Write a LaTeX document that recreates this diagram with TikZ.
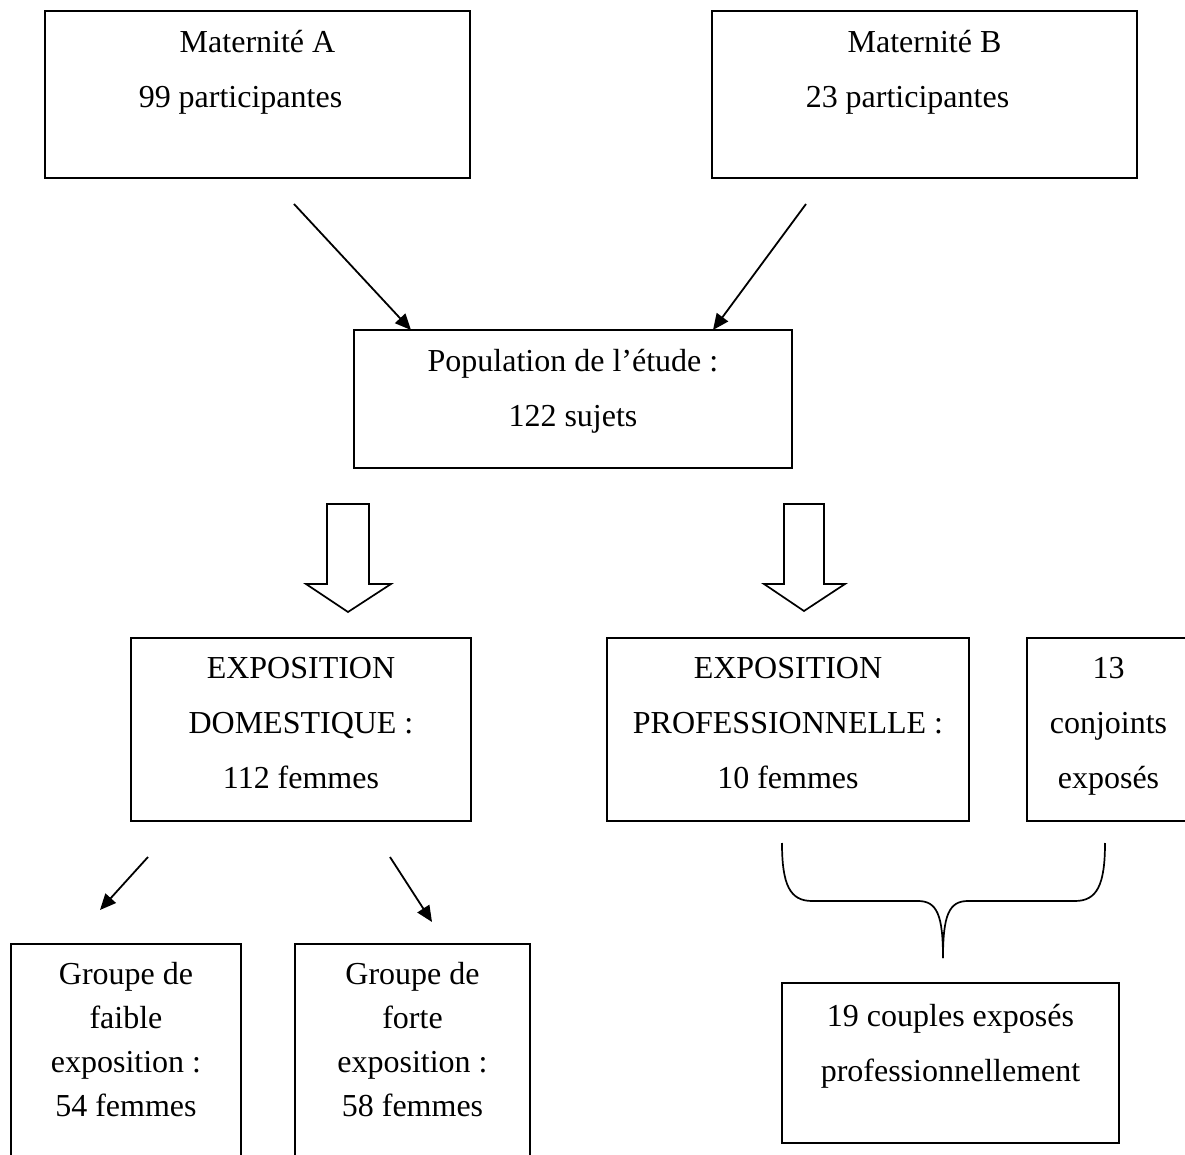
\documentclass[tikz,border=0pt]{standalone}
\usepackage{fontspec}
\setmainfont{Liberation Serif}
\usetikzlibrary{arrows.meta}
\newcommand{\bx}[5]{\parbox[c][#2][t]{#1}{\centering\fontsize{16pt}{#3}\selectfont\rule{0pt}{#4}#5}}
\tikzset{
  box/.style={draw, line width=0.85pt, inner sep=0pt, outer sep=0pt, anchor=north west},
  arr/.style={line width=0.9pt, -{Triangle[length=8pt,width=7pt]}},
  blockarrow/.style={draw, line width=0.85pt, fill=white, line join=miter},
  brace/.style={line width=0.85pt}
}
\begin{document}
\begin{tikzpicture}[x=0.5pt, y=-0.5pt]
\useasboundingbox (0,0) rectangle (1185,1155);
\clip (0,0) rectangle (1185,1155);
\fill[white] (0,0) rectangle (1185,1155);

% top boxes
\node[box] (matA) at (45,11) {\bx{212.5pt}{83.5pt}{27.5pt}{21pt}{Maternité A\\99 participantes\hspace*{17pt}}};
\node[box] (matB) at (712,11) {\bx{212.5pt}{83.5pt}{27.5pt}{21pt}{Maternité B\\23 participantes\hspace*{17pt}}};

% population
\node[box] (pop) at (354,330) {\bx{219pt}{69pt}{27.5pt}{20.8pt}{Population de l’étude :\\122 sujets}};

% arrows into population
\coordinate (tA) at (294,204);
\coordinate (tB) at (806,204);
\draw[arr] (tA) -- ([xshift=28.5pt]pop.north west);
\draw[arr] (tB) -- ([xshift=-39.5pt]pop.north east);

% block arrows
\draw[blockarrow] (327,504) -- (369,504) -- (369,584) -- (391,584) -- (348,612) -- (306,584) -- (327,584) -- cycle;
\draw[blockarrow] (784,504) -- (824,504) -- (824,584) -- (845,584) -- (804,611) -- (764,584) -- (784,584) -- cycle;

% exposure boxes
\node[box] (dom) at (131,638) {\bx{170pt}{91.5pt}{27.5pt}{20pt}{EXPOSITION\\DOMESTIQUE :\\112 femmes}};
\node[box] (pro) at (607,638) {\bx{181pt}{91.5pt}{27.5pt}{20pt}{EXPOSITION\\PROFESSIONNELLE :\\10 femmes}};
\node[box] (conj) at (1027,638) {\bx{81.5pt}{91.5pt}{27.5pt}{20pt}{13\\conjoints\\exposés}};

% small arrows
\coordinate (sA1) at (148,857);
\coordinate (sA2) at (100,910);
\coordinate (sB1) at (390,857);
\coordinate (sB2) at (432,922);
\draw[arr] (sA1) -- (sA2);
\draw[arr] (sB1) -- (sB2);

% bottom groups
\node[box] (faible) at (11,944) {\bx{115pt}{125pt}{22pt}{20pt}{Groupe de\\faible\\exposition :\\54 femmes}};
\node[box] (forte) at (295,944) {\bx{117.5pt}{125pt}{22pt}{20pt}{Groupe de\\forte\\exposition :\\58 femmes}};

% brace
\draw[brace] (782,843) .. controls (782,885) and (790,901) .. (812,901) -- (918,901)
  .. controls (937,901) and (943,915) .. (943,958);
\draw[brace] (1105,843) .. controls (1105,885) and (1097,901) .. (1075,901) -- (968,901)
  .. controls (949,901) and (943,915) .. (943,958);

% couples
\node[box] (couples) at (782,983) {\bx{168.5pt}{80pt}{27.5pt}{21.5pt}{19 couples exposés\\professionnellement}};
\end{tikzpicture}
\end{document}
